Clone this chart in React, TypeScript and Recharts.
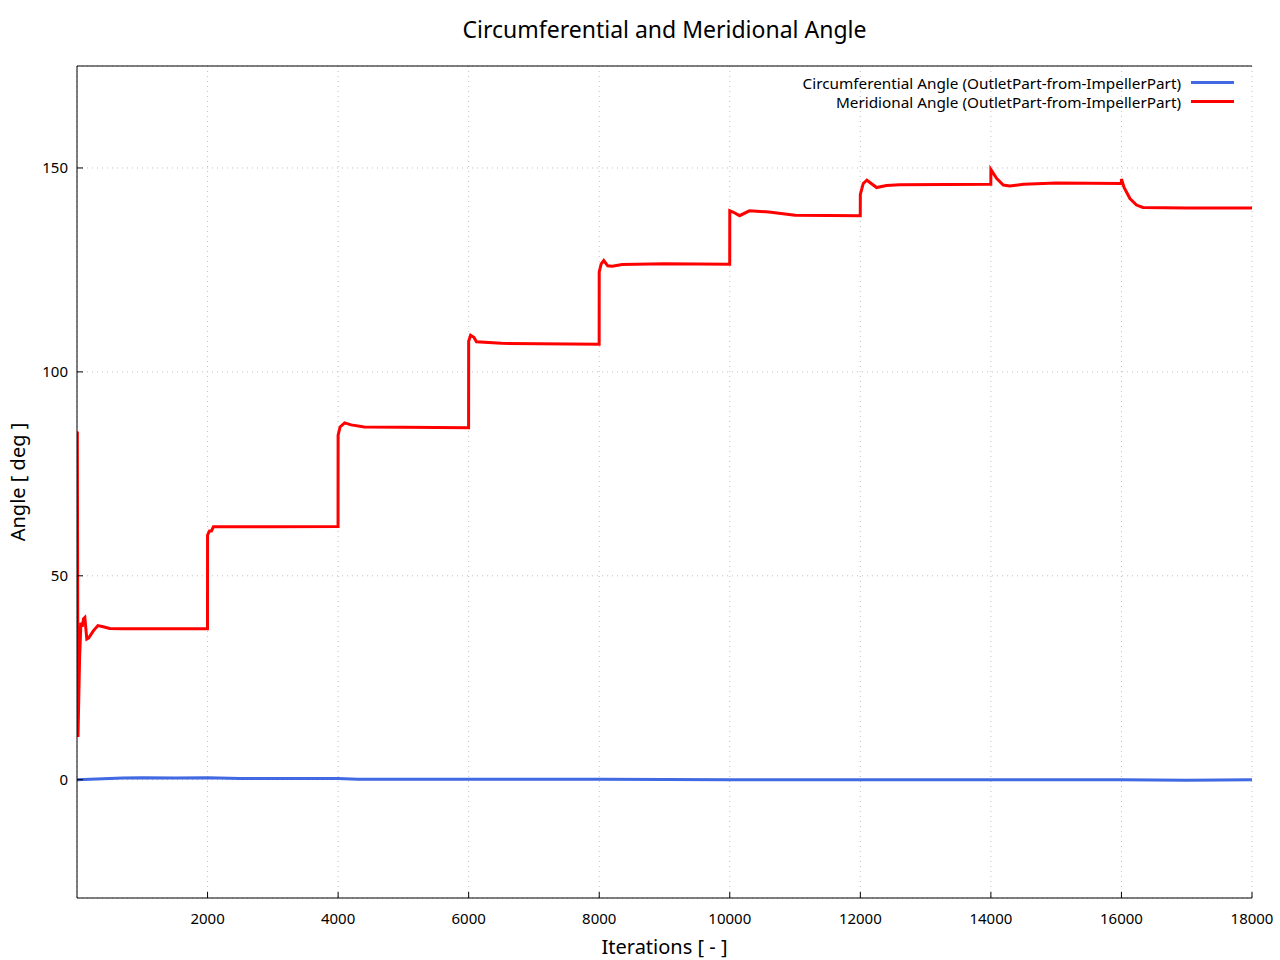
import {
  LineChart,
  Line,
  XAxis,
  YAxis,
  CartesianGrid,
  Label,
} from 'recharts';

// Meridional angle (red)
const meridionalIter = [
  0, 5, 15, 40, 60, 80, 100, 120, 150, 180, 250, 320, 400, 500, 700, 1000, 1999,
  2000, 2030, 2060, 2090, 2500, 3000, 3999,
  4000, 4030, 4100, 4200, 4400, 5000, 5999,
  6000, 6030, 6080, 6120, 6500, 7999,
  8000, 8030, 8070, 8130, 8200, 8350, 9000, 9999,
  10000, 10050, 10150, 10300, 10600, 11000, 11999,
  12000, 12045, 12100, 12250, 12400, 12600, 13999,
  14000, 14090, 14190, 14290, 14500, 15000, 15999,
  16000, 16040, 16130, 16230, 16330, 17000, 18000,
];
const meridionalAngle = [
  85, 85, 10.5, 30, 38.5, 37.5, 39.5, 39.8, 34.5, 34.8, 36.5, 37.8, 37.5, 37.1, 37, 37, 37,
  60, 61, 61, 62, 62, 62, 62.1,
  84.5, 86.5, 87.5, 87, 86.5, 86.4, 86.3,
  107.5, 109, 108.5, 107.4, 107, 106.8,
  124.5, 126.5, 127.3, 126, 125.9, 126.3, 126.5, 126.4,
  139.5, 139.2, 138.3, 139.5, 139.2, 138.4, 138.3,
  143.5, 146.2, 147, 145.2, 145.7, 145.9, 146,
  149.6, 147.4, 145.8, 145.6, 146, 146.3, 146.2,
  147.3, 145.2, 142.5, 140.9, 140.3, 140.2, 140.2,
];

// Circumferential angle (blue)
const circIter = [0, 300, 700, 1000, 1500, 2000, 2500, 3000, 4000, 4300, 6000, 8000, 10000, 12000, 14000, 16000, 17000, 18000];
const circAngle = [0, 0.2, 0.4, 0.5, 0.4, 0.5, 0.3, 0.3, 0.3, 0.1, 0.1, 0.1, 0, 0, 0, 0, -0.1, 0];

const xTicks = [2000, 4000, 6000, 8000, 10000, 12000, 14000, 16000, 18000];
const yTicks = [0, 50, 100, 150];

const meridionalData = meridionalIter.map((iter, i) => ({ iter, angle: meridionalAngle[i] }));
const circData = circIter.map((iter, i) => ({ iter, angle: circAngle[i] }));

const FONT = '"Noto Sans", sans-serif';

const legendItems = [
  { label: 'Circumferential Angle (OutletPart-from-ImpellerPart)', color: '#4169e1' },
  { label: 'Meridional Angle (OutletPart-from-ImpellerPart)', color: '#ff0000' },
];

function ChartLegend() {
  return (
    <div
      style={{
        position: 'absolute',
        top: 73,
        right: 46,
        fontFamily: FONT,
        fontSize: 15.3,
        color: '#000',
      }}
    >
      {legendItems.map((item) => (
        <div
          key={item.label}
          style={{ display: 'flex', justifyContent: 'flex-end', alignItems: 'center', height: 19 }}
        >
          <span>{item.label}</span>
          <span
            style={{
              display: 'inline-block',
              width: 43,
              height: 3,
              marginLeft: 10,
              background: item.color,
            }}
          />
        </div>
      ))}
    </div>
  );
}

export default function App() {
  return (
    <div
      style={{
        position: 'absolute',
        left: 0,
        top: 0,
        width: 1280,
        height: 960,
        background: '#fff',
        fontFamily: FONT,
      }}
    >
      <div
        style={{
          position: 'absolute',
          top: 13,
          left: 77,
          width: 1175,
          textAlign: 'center',
          fontSize: 23,
          color: '#000',
        }}
      >
        Circumferential and Meridional Angle
      </div>
      <LineChart
        width={1280}
        height={960}
        margin={{ top: 65, right: 28, left: 0, bottom: 0 }}
      >
        <CartesianGrid
          xAxisId="bottom"
          yAxisId="left"
          stroke="#c0c0c0"
          strokeDasharray="1 4"
        />
        <XAxis
          xAxisId="bottom"
          dataKey="iter"
          type="number"
          domain={[0, 18000]}
          ticks={xTicks}
          height={62}
          stroke="#000"
          tickSize={-6}
          tickMargin={21}
          tick={{ fill: '#000', fontSize: 15, fontFamily: FONT }}
          allowDataOverflow
        >
          <Label
            value="Iterations [ - ]"
            position="insideBottom"
            offset={6}
            style={{ fill: '#000', fontSize: 20, fontFamily: FONT }}
          />
        </XAxis>
        <XAxis
          xAxisId="top"
          orientation="top"
          dataKey="iter"
          type="number"
          domain={[0, 18000]}
          ticks={xTicks}
          height={1}
          stroke="#000"
          tickSize={-6}
          tick={false}
        />
        <YAxis
          yAxisId="left"
          type="number"
          domain={[-29, 175]}
          ticks={yTicks}
          width={77}
          stroke="#000"
          tickSize={-6}
          tickMargin={15}
          tick={{ fill: '#000', fontSize: 15, fontFamily: FONT }}
          allowDataOverflow
        >
          <Label
            value="Angle [ deg ]"
            angle={-90}
            position="insideLeft"
            offset={18}
            style={{ fill: '#000', fontSize: 20, fontFamily: FONT, textAnchor: 'middle' }}
          />
        </YAxis>
        <YAxis
          yAxisId="right"
          orientation="right"
          type="number"
          domain={[-29, 175]}
          ticks={yTicks}
          width={0}
          stroke="#000"
          tickSize={-6}
          tick={false}
        />
        <Line
          xAxisId="bottom"
          yAxisId="left"
          data={circData}
          dataKey="angle"
          type="linear"
          stroke="#4169e1"
          strokeWidth={3}
          dot={false}
          isAnimationActive={false}
        />
        <Line
          xAxisId="bottom"
          yAxisId="left"
          data={meridionalData}
          dataKey="angle"
          type="linear"
          stroke="#ff0000"
          strokeWidth={3}
          dot={false}
          isAnimationActive={false}
        />
      </LineChart>
      <ChartLegend />
    </div>
  );
}
